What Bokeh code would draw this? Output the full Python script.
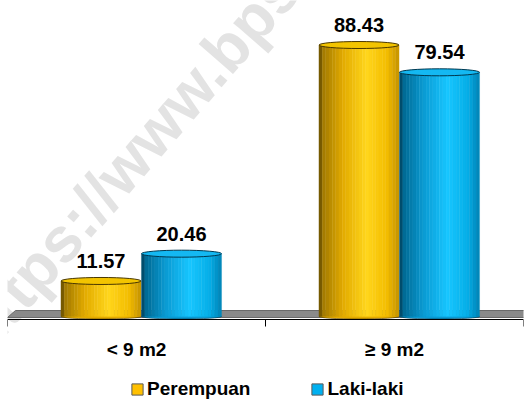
import numpy as np
from bokeh.plotting import figure
from bokeh.models import Range1d, LinearAxis, FixedTicker, ColumnDataSource, Legend, LegendItem
from bokeh.embed import file_html
from bokeh.resources import INLINE
from bokeh.core.properties import value

# ---- data ----
categories = ["< 9 m2", "≥ 9 m2"]
series_names = ["Perempuan", "Laki-laki"]
perempuan = [11.57, 88.43]
laki_laki = [20.46, 79.54]
watermark = "https://www.bps.go.id"

# ---- styles ----
FONT = "Liberation Sans"
series_values = [perempuan, laki_laki]
series_offsets = [-0.1376, 0.1744]          # bar centre offset within a category
BAR_W = 0.31
N_STRIPS = 24
shade_pos = [0.0, 0.06, 0.3, 0.6, 0.85, 1.0]
shade_cols = [
    ["#5e4700", "#a47c00", "#e3ab00", "#ffd61c", "#f3bd00", "#c49300"],
    ["#003d57", "#006c96", "#0a9ad2", "#17c6ff", "#05aee8", "#0082b4"],
]
top_fill = ["#f3c400", "#14b8f2"]
top_line = ["#4a3800", "#00384f"]
legend_cols = ["#ffc000", "#00b0f0"]


def hex2rgb(h):
    h = h.lstrip("#")
    return np.array([int(h[i:i + 2], 16) for i in (0, 2, 4)], dtype=float)


def shade(cols, t):
    rgb = np.array([hex2rgb(c) for c in cols])
    r = [np.interp(t, shade_pos, rgb[:, j]) for j in range(3)]
    return "#%02x%02x%02x" % tuple(int(round(v)) for v in r)


ncat = len(categories)
AXIS_AT = -0.98
p = figure(width=526, height=401,
           x_range=Range1d(0, ncat), y_range=Range1d(-27.69, 102.93),
           output_backend="svg", toolbar_location=None,
           x_axis_location=None, y_axis_location=None,
           min_border_left=7, min_border_right=3, min_border_top=0,
           min_border_bottom=0)
p.grid.visible = False
p.outline_line_color = None
p.background_fill_color = "white"
p.border_fill_color = "white"

# watermark
p.text(x=[0.682], y=[71.3], text=[watermark], angle=49, angle_units="deg",
       text_align="center", text_baseline="middle",
       text_font=value(FONT), text_font_style="bold", text_font_size="63px",
       text_color="#e3e3e3")

# floor
p.patch(x=[0.0, 0.031, ncat + 0.05, ncat + 0.01], y=[-0.33, 1.95, 1.95, -0.33],
        fill_color="#8a8a8a", line_color="#6a6a6a", line_width=1)

# cylinder bars
for s, vals in enumerate(series_values):
    centers = np.arange(ncat) + 0.5 + series_offsets[s]
    p.ellipse(x=centers, y=[0] * ncat, width=BAR_W, height=5, height_units="screen",
              fill_color=shade_cols[s][2], line_color=top_line[s], line_width=0.6)
    xs, tops, cols = [], [], []
    for i in range(ncat):
        for k in range(N_STRIPS):
            t = (k + 0.5) / N_STRIPS
            xs.append(centers[i] - BAR_W / 2 + t * BAR_W)
            tops.append(vals[i])
            cols.append(shade(shade_cols[s], t))
    src = ColumnDataSource(dict(x=xs, top=tops, color=cols))
    p.vbar(x="x", top="top", bottom=0, width=BAR_W / N_STRIPS * 1.05, source=src,
           fill_color="color", line_color="color", line_width=0.3)
    p.ellipse(x=centers, y=vals, width=BAR_W, height=7, height_units="screen",
              fill_color=top_fill[s], line_color=top_line[s], line_width=1)
    p.text(x=centers, y=vals, text=["%.2f" % v for v in vals], y_offset=-20,
           text_align="center", text_baseline="alphabetic",
           text_font=value(FONT), text_font_style="bold", text_font_size="20px",
           text_color="black")

# category axis with boundary ticks, drawn at the floor's front edge
xaxis = LinearAxis(
    fixed_location=AXIS_AT,
    ticker=FixedTicker(ticks=[i + 0.5 for i in range(ncat)],
                       minor_ticks=list(range(ncat + 1))),
    major_label_overrides={i + 0.5: c for i, c in enumerate(categories)},
    major_tick_line_color=None, major_tick_in=0, major_tick_out=0,
    minor_tick_in=0, minor_tick_out=7, minor_tick_line_color="black",
    axis_line_color="black", axis_line_width=1,
    major_label_standoff=12,
    major_label_text_font=FONT, major_label_text_font_style="bold",
    major_label_text_font_size="19px", major_label_text_color="black")
p.add_layout(xaxis, "below")

# legend (swatch renderers placed outside the visible ranges)
items = []
for s, name in enumerate(series_names):
    r = p.quad(left=[-10], right=[-9], top=[-100], bottom=[-101], fill_color=legend_cols[s],
               line_color="#5a5a5a", line_width=1)
    items.append(LegendItem(label=name, renderers=[r]))
legend = Legend(items=items, orientation="horizontal", location=(123, 1),
                glyph_width=14, glyph_height=14, label_standoff=3, spacing=60,
                padding=0, margin=0, border_line_color=None,
                background_fill_alpha=0,
                label_text_font=FONT, label_text_font_style="bold",
                label_text_font_size="19px", label_text_color="black")
p.add_layout(legend, "center")

open("out.html", "w").write(file_html(p, INLINE))
